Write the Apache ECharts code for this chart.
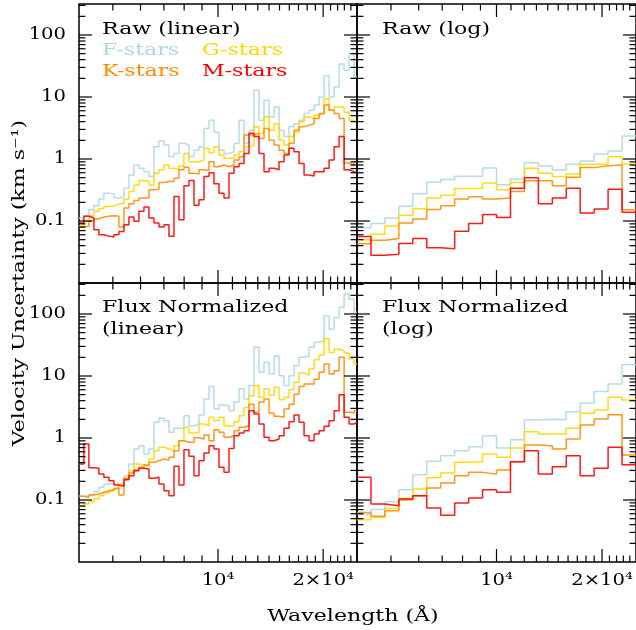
<!DOCTYPE html>
<html>
<head>
<meta charset="utf-8">
<script src="https://cdn.jsdelivr.net/npm/echarts@6/dist/echarts.min.js"></script>
<style>
html, body { margin: 0; padding: 0; background: #fff; }
#chart { width: 636px; height: 630px; }
</style>
</head>
<body>
<div id="chart"></div>
<script>
// wavelength grid (Angstrom) for the finely binned "linear" panels
const waveLin = [4000, 4130, 4269, 4413, 4560, 4713, 4872, 5035, 5204, 5379,
  5559, 5746, 5938, 6138, 6344, 6556, 6776, 7004, 7238, 7482,
  7732, 7990, 8258, 8536, 8823, 9119, 9424, 9739, 10066, 10404,
  10752, 11113, 11486, 11870, 12269, 12679, 13105, 13544, 13999, 14469,
  14954, 15455, 15973, 16511, 17063, 17636, 18227, 18841, 19472, 20125,
  20800, 21497, 22218, 22963, 23733, 24529]

// Raw (linear), km/s
const rawLinF = [0.112, 0.122, 0.152, 0.176, 0.226, 0.281, 0.274, 0.234, 0.243, 0.339,
  0.554, 0.80, 0.71, 0.625, 0.52, 1.57, 1.97, 1.68, 1.09, 1.23,
  1.79, 1.68, 1.09, 1.39, 1.57, 3.1, 4.2, 2.7, 1.39, 1.23,
  1.31, 1.8, 4.2, 1.8, 2.9, 12.8, 4.2, 8.9, 4.8, 6.9,
  2.9, 2.3, 3.3, 3.7, 4.2, 5.4, 6.1, 7.4, 10, 22,
  10, 14.5, 34, 27, 50, 21]
const rawLinG = [0.082, 0.099, 0.122, 0.143, 0.159, 0.172, 0.176, 0.187, 0.195, 0.226,
  0.30, 0.38, 0.45, 0.44, 0.38, 0.59, 0.67, 0.80, 0.71, 0.68,
  0.77, 1.23, 0.905, 0.905, 0.96, 1.49, 1.26, 1.57, 1.16, 1.03,
  1.03, 1.16, 1.31, 1.57, 1.68, 3.3, 2.6, 4.8, 2.9, 3.7,
  2.0, 1.68, 2.3, 2.7, 4.0, 4.8, 4.5, 5.1, 5.4, 9.4,
  6.1, 6.9, 6.9, 5.7, 4.2, 4.0]
const rawLinK = [0.080, 0.082, 0.099, 0.108, 0.116, 0.119, 0.122, 0.119, 0.080, 0.162,
  0.19, 0.214, 0.234, 0.234, 0.318, 0.326, 0.417, 0.432, 0.432, 0.49,
  0.67, 0.736, 0.59, 0.574, 0.67, 0.65, 0.905, 0.75, 0.80, 0.75,
  0.80, 0.96, 1.09, 2.43, 2.43, 2.6, 2.15, 3.1, 2.0, 1.68,
  1.39, 1.23, 1.79, 2.9, 3.3, 3.5, 3.7, 4.5, 5.4, 7.4,
  6.1, 5.4, 4.5, 0.86, 0.8, 0.9]
const rawLinM = [0.093, 0.119, 0.112, 0.072, 0.060, 0.057, 0.055, 0.060, 0.068, 0.087,
  0.116, 0.099, 0.143, 0.168, 0.112, 0.093, 0.080, 0.087, 0.057, 0.248,
  0.105, 0.37, 0.45, 0.18, 0.22, 0.52, 0.60, 0.40, 0.28, 0.234,
  0.59, 0.75, 0.85, 1.23, 2.6, 2.3, 1.23, 0.625, 0.71, 0.67,
  0.905, 1.16, 1.49, 1.31, 0.85, 0.554, 0.53, 0.625, 0.625, 0.71,
  0.96, 1.57, 2.3, 0.67, 0.625, 0.59]

// Flux Normalized (linear), km/s
const fluxLinF = [0.115, 0.117, 0.125, 0.136, 0.160, 0.181, 0.186, 0.181, 0.188, 0.247,
  0.38, 0.665, 0.75, 0.55, 0.665, 1.79, 2.08, 1.90, 1.24, 1.43,
  1.43, 2.29, 1.58, 1.68, 2.35, 4.26, 6.8, 2.94, 3.4, 3.3,
  2.75, 3.8, 6.2, 4.26, 7.0, 29, 11.5, 16.6, 10.8, 21,
  10.1, 7.0, 10.1, 14.7, 20, 21, 29, 35, 37, 94,
  57, 88, 128, 210, 175, 107]
const fluxLinG = [0.079, 0.086, 0.094, 0.104, 0.117, 0.130, 0.145, 0.155, 0.175, 0.218,
  0.297, 0.38, 0.367, 0.35, 0.46, 0.624, 0.71, 0.665, 0.624, 0.75,
  0.905, 1.49, 1.2, 1.24, 1.68, 1.58, 2.16, 1.9, 2.16, 1.58,
  1.54, 1.83, 2.29, 3.1, 4.8, 7.0, 4.5, 6.2, 4.9, 6.6,
  4.15, 4.5, 6.0, 7.9, 11.2, 10.4, 13, 18.3, 21.8, 40,
  24, 27, 25.6, 23.5, 18.8, 15.6]
const fluxLinK = [0.115, 0.111, 0.12, 0.125, 0.133, 0.14, 0.143, 0.155, 0.12, 0.224,
  0.272, 0.308, 0.337, 0.367, 0.405, 0.43, 0.458, 0.442, 0.489, 0.624,
  0.905, 0.853, 0.853, 1.01, 0.963, 1.12, 0.905, 1.36, 1.24, 1.03,
  1.09, 1.31, 1.49, 1.58, 3.5, 2.6, 3.8, 4.26, 2.53, 2.24,
  2.16, 2.94, 3.5, 5.1, 6.8, 7.4, 7.4, 8.9, 11.5, 15.6,
  10.8, 12.2, 20, 2.6, 2.53, 2.75]
const fluxLinM = [0.38, 0.8, 0.33, 0.325, 0.263, 0.232, 0.205, 0.175, 0.166, 0.212,
  0.247, 0.297, 0.325, 0.316, 0.224, 0.232, 0.181, 0.141, 0.117, 0.35,
  0.175, 0.647, 0.507, 0.247, 0.43, 0.573, 0.75, 0.665, 0.337, 0.28,
  0.68, 1.09, 1.2, 1.31, 2.75, 2.44, 1.68, 1.03, 0.905, 0.963,
  1.09, 1.43, 1.83, 2.35, 1.79, 1.09, 0.905, 1.16, 1.31, 1.54,
  1.9, 2.75, 5.0, 2.16, 1.68, 1.79]

// bin edges (Angstrom) of the 20 log-spaced bins
const logEdges = [4000, 4384, 4805, 5266, 5771, 6325, 6932, 7597, 8326, 9125,
  10000, 10960, 12011, 13164, 14427, 15811, 17329, 18992, 20814, 22811, 25000]

// Raw (log), km/s
const rawLogF = [0.078, 0.091, 0.112, 0.173, 0.274, 0.42, 0.466, 0.526, 0.526, 0.717,
  0.383, 0.477, 0.873, 0.772, 0.666, 0.822, 0.929, 1.2, 1.34, 2.34]
const rawLogG = [0.050, 0.061, 0.083, 0.124, 0.157, 0.236, 0.26, 0.333, 0.333, 0.411,
  0.318, 0.417, 0.71, 0.589, 0.52, 0.574, 0.822, 0.822, 1.09, 0.831]
const rawLogK = [0.043, 0.049, 0.052, 0.093, 0.108, 0.153, 0.177, 0.227, 0.245, 0.227,
  0.234, 0.30, 0.444, 0.444, 0.369, 0.508, 0.726, 0.78, 0.80, 0.152]
const rawLogM = [0.056, 0.028, 0.029, 0.0435, 0.052, 0.037, 0.0357, 0.0686, 0.091, 0.127,
  0.114, 0.339, 0.50, 0.19, 0.234, 0.339, 0.134, 0.156, 0.326, 0.139]

// Flux Normalized (log), km/s
const fluxLogF = [0.059, 0.07, 0.094, 0.147, 0.256, 0.42, 0.519, 0.625, 0.725, 1.09,
  0.69, 0.94, 1.97, 2.0, 1.97, 2.66, 3.67, 5.6, 7.4, 15.2]
const fluxLogG = [0.048, 0.052, 0.073, 0.106, 0.15, 0.229, 0.272, 0.405, 0.415, 0.552,
  0.489, 0.69, 1.26, 1.16, 1.16, 1.43, 2.5, 2.83, 4.53, 4.1]
const fluxLogK = [0.063, 0.0545, 0.067, 0.1, 0.117, 0.156, 0.188, 0.247, 0.279, 0.263,
  0.305, 0.415, 0.77, 0.75, 0.665, 0.963, 1.62, 2.02, 2.38, 0.532]
const fluxLogM = [0.232, 0.086, 0.081, 0.104, 0.117, 0.074, 0.057, 0.0895, 0.108, 0.147,
  0.133, 0.415, 0.624, 0.263, 0.344, 0.518, 0.247, 0.325, 0.708, 0.371]

// axis ticks
const xMajor = [10000, 20000]
const xMajorLabels = ['10⁴', '2×10⁴']
const xMinor = [5000, 6000, 7000, 8000, 9000,
  11000, 12000, 13000, 14000, 15000, 16000, 17000, 18000, 19000,
  21000, 22000, 23000, 24000]
const yMajor = [0.1, 1, 10, 100]
const yMajorLabels = ['0.1', '1', '10', '100']
const yMinor = [0.02, 0.03, 0.04, 0.05, 0.06, 0.07, 0.08, 0.09,
  0.2, 0.3, 0.4, 0.5, 0.6, 0.7, 0.8, 0.9,
  2, 3, 4, 5, 6, 7, 8, 9,
  20, 30, 40, 50, 60, 70, 80, 90, 200, 300]

const starNames = ['F-stars', 'G-stars', 'K-stars', 'M-stars']
const colors = ['#add8e6', '#ffd700', '#ff8c00', '#ff0000']

const X_MIN = 4000, X_MAX = 25000
const Y_MIN = 0.01, Y_MAX = 316.2
const FONT = '17px "DejaVu Serif", serif'
const WIDE = 1.3   // the original lettering is much wider than DejaVu
const TICK_WIDE = 1.15

const chart = echarts.init(document.getElementById('chart'), null, { renderer: 'canvas' })

// panel boxes: top-left, top-right, bottom-left, bottom-right
const grids = [
  { left: 79, top: 4, width: 278, height: 279 },
  { left: 357, top: 4, width: 279, height: 279 },
  { left: 79, top: 283, width: 278, height: 279 },
  { left: 357, top: 283, width: 279, height: 279 }
].map(g => Object.assign(g, { show: true, borderColor: '#000', borderWidth: 1.5, backgroundColor: 'transparent' }))

const hidden = { axisLine: { show: false }, axisTick: { show: false }, axisLabel: { show: false }, splitLine: { show: false } }
const xAxes = grids.map((g, i) => Object.assign({ type: 'log', logBase: 10, min: X_MIN, max: X_MAX, gridIndex: i }, hidden))
const yAxes = grids.map((g, i) => Object.assign({ type: 'log', logBase: 10, min: Y_MIN, max: Y_MAX, gridIndex: i }, hidden))

function steps(xs, ys, xEnd) {
  const pts = xs.map((x, i) => [x, ys[i]])
  pts.push([xEnd, ys[ys.length - 1]])
  return pts
}

function line(x1, y1, x2, y2) {
  return { type: 'line', shape: { x1, y1, x2, y2 }, style: { stroke: '#000', lineWidth: 1.2 } }
}

function tickText(str, x, y, align) {
  return {
    type: 'text',
    x, y,
    scaleX: TICK_WIDE,
    style: { text: str, x: 0, y: 0, fill: '#000', font: FONT, textAlign: align, textVerticalAlign: 'middle' }
  }
}

// tick marks on all four sides, labels only where the panel needs them
function tickRenderer(showY, showX) {
  return function (params, api) {
    const children = []
    const bl = api.coord([X_MIN, Y_MIN])
    const tr = api.coord([X_MAX, Y_MAX])
    const addX = (v, len) => {
      const x = api.coord([v, Y_MIN])[0]
      children.push(line(x, bl[1], x, bl[1] - len))
      children.push(line(x, tr[1], x, tr[1] + len))
    }
    const addY = (v, len) => {
      const y = api.coord([X_MIN, v])[1]
      children.push(line(bl[0], y, bl[0] + len, y))
      children.push(line(tr[0], y, tr[0] - len, y))
    }
    xMajor.forEach(v => addX(v, 13))
    xMinor.forEach(v => addX(v, 6.5))
    yMajor.forEach(v => addY(v, 13))
    yMinor.forEach(v => addY(v, 6.5))
    if (showY) {
      yMajor.forEach((v, i) => {
        const y = api.coord([X_MIN, v])[1]
        children.push(tickText(yMajorLabels[i], bl[0] - 13, y, 'right'))
      })
    }
    if (showX) {
      xMajor.forEach((v, i) => {
        const x = api.coord([v, Y_MIN])[0]
        children.push(tickText(xMajorLabels[i], x, bl[1] + 19, 'center'))
      })
    }
    return { type: 'group', children }
  }
}

const panels = [
  { x: waveLin, ys: [rawLinF, rawLinG, rawLinK, rawLinM] },
  { x: logEdges.slice(0, 20), ys: [rawLogF, rawLogG, rawLogK, rawLogM] },
  { x: waveLin, ys: [fluxLinF, fluxLinG, fluxLinK, fluxLinM] },
  { x: logEdges.slice(0, 20), ys: [fluxLogF, fluxLogG, fluxLogK, fluxLogM] }
]

const series = []
panels.forEach((p, gi) => {
  p.ys.forEach((ys, si) => {
    series.push({
      name: starNames[si],
      type: 'line',
      step: 'end',
      xAxisIndex: gi,
      yAxisIndex: gi,
      data: steps(p.x, ys, X_MAX),
      showSymbol: false,
      symbol: 'none',
      clip: true,
      lineStyle: { color: colors[si], width: 1.5, opacity: 0.9 },
      z: 2 + si
    })
  })
  series.push({
    type: 'custom',
    xAxisIndex: gi,
    yAxisIndex: gi,
    data: [[10000, 1]],
    renderItem: tickRenderer(gi === 0 || gi === 2, gi >= 2),
    silent: true,
    z: 10
  })
})

// panel captions and axis titles (x, y = left edge / vertical middle)
function label(str, x, y, color, extra) {
  return Object.assign({
    type: 'text', x, y, scaleX: WIDE,
    style: { text: str, fill: color || '#000', font: FONT, textAlign: 'left', textVerticalAlign: 'middle' }
  }, extra || {})
}

const option = {
  animation: false,
  backgroundColor: '#fff',
  grid: grids,
  xAxis: xAxes,
  yAxis: yAxes,
  series: series,
  graphic: [
    label('Raw (linear)', 102, 30),
    label('F-stars', 102, 51, colors[0]),
    label('G-stars', 202, 51, colors[1]),
    label('K-stars', 102, 72, colors[2]),
    label('M-stars', 202, 72, colors[3]),
    label('Raw (log)', 382, 30),
    label('Flux Normalized', 102, 308),
    label('(linear)', 102, 330),
    label('Flux Normalized', 382, 308),
    label('(log)', 382, 330),
    {
      type: 'text',
      x: 20, y: 283,
      rotation: Math.PI / 2,
      scaleX: WIDE,
      style: { text: 'Velocity Uncertainty (km s⁻¹)', fill: '#000', font: FONT, textAlign: 'center', textVerticalAlign: 'middle' }
    },
    {
      type: 'text',
      x: 353, y: 617,
      scaleX: WIDE,
      style: { text: 'Wavelength (Å)', fill: '#000', font: FONT, textAlign: 'center', textVerticalAlign: 'middle' }
    }
  ]
}

chart.setOption(option)
</script>
</body>
</html>
